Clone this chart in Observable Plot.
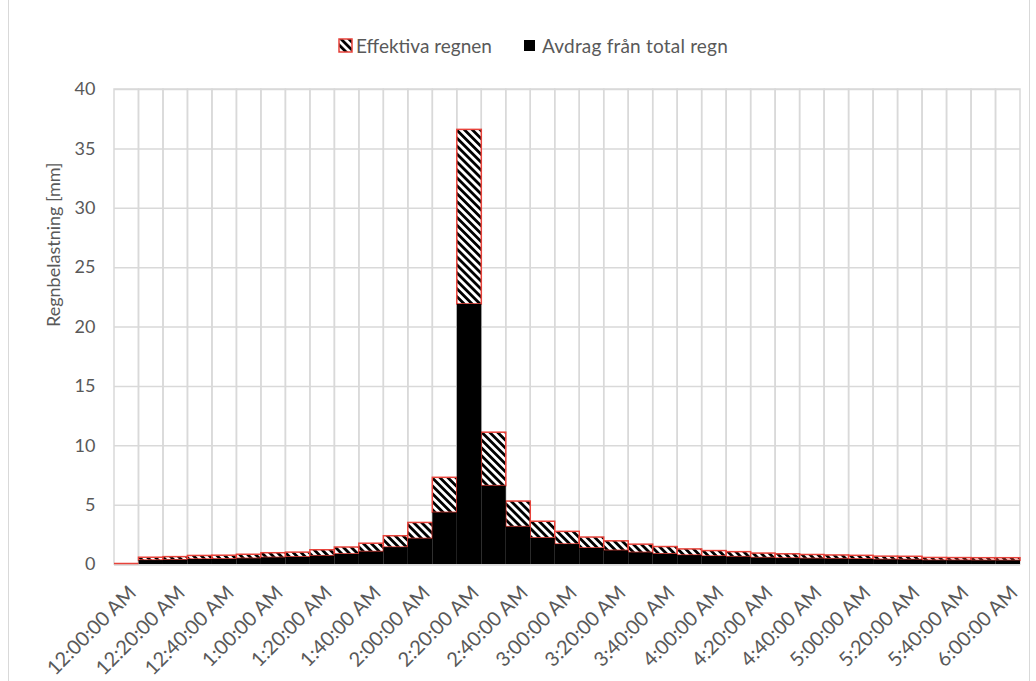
<!DOCTYPE html>
<html>
<head>
<meta charset="utf-8">
<script src="https://cdn.jsdelivr.net/npm/d3@7"></script>
<script src="https://cdn.jsdelivr.net/npm/@observablehq/plot@0.6"></script>
<style>
  html, body { margin: 0; padding: 0; background: #fff; }
  #wrap { position: relative; width: 1036px; height: 681px; overflow: hidden; font-family: Lato, "Open Sans", sans-serif; color: #595959; }
  #frame { position: absolute; left: 8px; top: -5px; width: 1022px; height: 720px; border: 1px solid #d9d9d9; box-sizing: border-box; }
  #legend { position: absolute; top: 32px; left: 0; width: 1036px; height: 26px; font-size: 19px; color: #595959; }
  .item { position: absolute; top: 0; display: flex; align-items: center; height: 26px; white-space: nowrap; }
  #chart { position: absolute; left: 0; top: 0; }
</style>
</head>
<body>
<div id="wrap">
  <div id="frame"></div>
  <div id="chart"></div>
  <div id="legend">
    <div class="item" style="left:338px">
      <svg width="15" height="15" style="margin-right:3px">
        <defs>
          <pattern id="hatchL" patternUnits="userSpaceOnUse" width="5.5" height="5.5" patternTransform="rotate(-45)">
            <rect width="5.5" height="5.5" fill="white"></rect>
            <rect width="2.8" height="5.5" fill="black"></rect>
          </pattern>
        </defs>
        <rect x="1" y="1" width="13" height="13" fill="url(#hatchL)" stroke="#e8433b" stroke-width="1.5"></rect>
      </svg>
      <span>Effektiva regnen</span>
    </div>
    <div class="item" style="left:524px">
      <svg width="11" height="11" style="margin-right:7px"><rect width="11" height="11" fill="black"></rect></svg>
      <span style="letter-spacing:0.2px">Avdrag från total regn</span>
    </div>
  </div>
</div>
<script>
const times = [
  "12:00:00 AM","12:10:00 AM","12:20:00 AM","12:30:00 AM","12:40:00 AM","12:50:00 AM",
  "1:00:00 AM","1:10:00 AM","1:20:00 AM","1:30:00 AM","1:40:00 AM","1:50:00 AM",
  "2:00:00 AM","2:10:00 AM","2:20:00 AM","2:30:00 AM","2:40:00 AM","2:50:00 AM",
  "3:00:00 AM","3:10:00 AM","3:20:00 AM","3:30:00 AM","3:40:00 AM","3:50:00 AM",
  "4:00:00 AM","4:10:00 AM","4:20:00 AM","4:30:00 AM","4:40:00 AM","4:50:00 AM",
  "5:00:00 AM","5:10:00 AM","5:20:00 AM","5:30:00 AM","5:40:00 AM","5:50:00 AM",
  "6:00:00 AM"
];
// black part: "Avdrag från total regn"
const avdrag = [
  0, 0.33, 0.36, 0.42, 0.43, 0.48,
  0.56, 0.60, 0.70, 0.85, 1.05, 1.42,
  2.15, 4.35, 21.9, 6.6, 3.15, 2.2,
  1.68, 1.35, 1.15, 0.98, 0.86, 0.75,
  0.67, 0.62, 0.54, 0.50, 0.47, 0.45,
  0.43, 0.39, 0.38, 0.32, 0.32, 0.31,
  0.31
];
// hatched part: "Effektiva regnen"
const effektiva = [
  0, 0.24, 0.26, 0.30, 0.31, 0.34,
  0.39, 0.40, 0.50, 0.58, 0.70, 0.96,
  1.35, 2.95, 14.7, 4.5, 2.15, 1.4,
  1.07, 0.92, 0.80, 0.69, 0.61, 0.52,
  0.46, 0.42, 0.38, 0.36, 0.33, 0.31,
  0.30, 0.27, 0.27, 0.23, 0.22, 0.22,
  0.22
];
const xTickLabels = [
  "12:00:00 AM","12:20:00 AM","12:40:00 AM","1:00:00 AM","1:20:00 AM","1:40:00 AM",
  "2:00:00 AM","2:20:00 AM","2:40:00 AM","3:00:00 AM","3:20:00 AM","3:40:00 AM",
  "4:00:00 AM","4:20:00 AM","4:40:00 AM","5:00:00 AM","5:20:00 AM","5:40:00 AM",
  "6:00:00 AM"
];
const yTicks = [0, 5, 10, 15, 20, 25, 30, 35, 40];
const yLabel = "Regnbelastning [mm]";

const data = times.map((t, i) => ({time: t, avdrag: avdrag[i], total: avdrag[i] + effektiva[i]}));

const grid = "#d9d9d9";
const red = "#e8433b";
const chart = Plot.plot({
  width: 1036,
  height: 681,
  marginLeft: 114,
  marginRight: 16,
  marginTop: 89,
  marginBottom: 117,
  style: {fontFamily: "Lato, 'Open Sans', sans-serif", fontSize: "17px", color: "#595959", background: "transparent"},
  x: {domain: times, padding: 0, round: false, axis: null},
  y: {domain: [0, 40], axis: null},
  marks: [
    Plot.ruleY(yTicks, {stroke: grid, strokeWidth: 1.5}),
    Plot.barY(times, {x: d => d, y1: 0, y2: 40, fill: "none", stroke: grid, strokeWidth: 1.5}),
    Plot.ruleY([0], {stroke: grid, strokeWidth: 2.5}),
    Plot.barY(data, {x: "time", y1: "avdrag", y2: "total", fill: "url(#hatch)", stroke: red, strokeWidth: 1.5}),
    Plot.barY(data, {x: "time", y1: 0, y2: "avdrag", fill: "black"}),
    Plot.tickY(data.filter(d => d.total === 0), {x: "time", y: "total", stroke: red, strokeWidth: 1.5, dy: -1}),
    Plot.axisY(yTicks, {tickSize: 0, tickPadding: 19, label: null, fill: "#595959", fontSize: 18}),
    Plot.text(xTickLabels, {x: d => d, y: 0, rotate: -45, textAnchor: "end", dx: 6, dy: 25, fill: "#595959", fontSize: 20}),
    Plot.text([yLabel], {frameAnchor: "left", rotate: -90, dx: -60, fill: "#595959", fontSize: 18})
  ]
});

const ns = "http://www.w3.org/2000/svg";
const defs = document.createElementNS(ns, "defs");
defs.innerHTML = '<pattern id="hatch" patternUnits="userSpaceOnUse" width="5.6" height="5.6" patternTransform="rotate(-45)"><rect width="5.6" height="5.6" fill="white"></rect><rect width="2.8" height="5.6" fill="black"></rect></pattern>';
chart.insertBefore(defs, chart.firstChild);
document.getElementById("chart").appendChild(chart);
</script>
</body>
</html>
